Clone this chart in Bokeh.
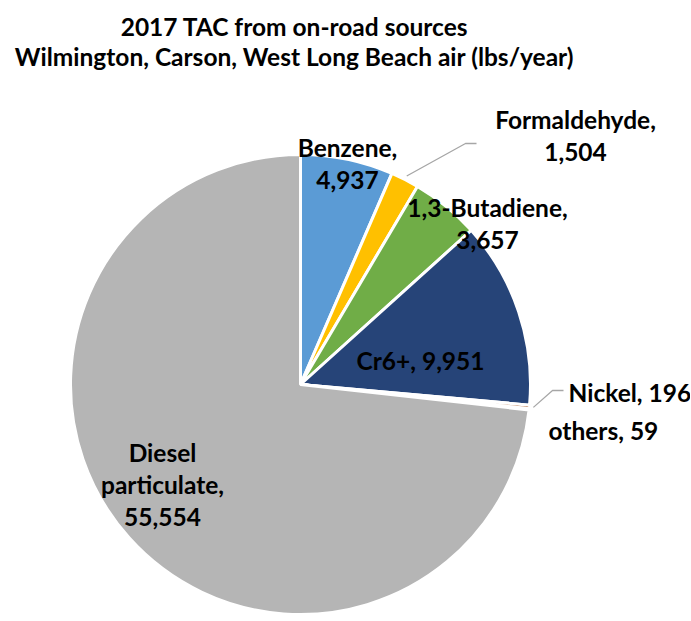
import math
from bokeh.plotting import figure
from bokeh.models import Range1d, ColumnDataSource
from bokeh.core.properties import value
from bokeh.embed import file_html
from bokeh.resources import INLINE

# ---- data ----
title_lines = ["2017 TAC from on-road sources",
               "Wilmington, Carson, West Long Beach air (lbs/year)"]
names = ["Benzene", "Formaldehyde", "1,3-Butadiene", "Cr6+", "Nickel", "others",
         "Diesel particulate"]
values = [4937, 1504, 3657, 9951, 196, 59, 55554]
colors = ["#5B9BD5", "#FFC000", "#70AD47", "#264478", "#9E480E", "#636363", "#B5B5B5"]

# ---- layout (page pixels) ----
W, H = 690, 620
CX, CY, R = 300, 384, 230
FONT = "Lato"
FS = "24.5px"
LINE_H = 32
# label layout: (x, first baseline y, align, line mode)
label_layout = [
    (347, 147, "center", "two"),
    (575, 119, "center", "two"),
    (487, 207, "center", "two"),
    (420, 360, "center", "one"),
    (568, 392, "left", "one"),
    (548, 430, "left", "one"),
    (162, 452, "center", "three"),
]
leader_elbows = {1: [(465, 143), (476, 143)], 4: [(552, 390), (563, 390)]}


def py(y):
    return H - y


p = figure(width=W, height=H, x_range=Range1d(0, W), y_range=Range1d(0, H),
           output_backend="svg", toolbar_location=None, min_border=0,
           min_border_left=0, min_border_right=0, min_border_top=0, min_border_bottom=0)
p.axis.visible = False
p.grid.visible = False
p.outline_line_color = None
p.background_fill_color = "white"
p.border_fill_color = "white"

total = sum(values)
starts, ends, mids = [], [], []
cum = 0
for v in values:
    a0 = math.pi / 2 - 2 * math.pi * cum / total
    cum += v
    a1 = math.pi / 2 - 2 * math.pi * cum / total
    starts.append(a0)
    ends.append(a1)
    mids.append((a0 + a1) / 2)

src = ColumnDataSource(dict(start=starts, end=ends, color=colors))
p.wedge(x=CX, y=py(CY), radius=R, start_angle="start", end_angle="end",
        direction="clock", fill_color="color", line_color="white", line_width=3,
        source=src)

# leader lines
for i, elbow in leader_elbows.items():
    a = mids[i]
    sx = CX + (R + 4) * math.cos(a)
    sy = py(CY) + (R + 4) * math.sin(a)
    xs = [sx] + [e[0] for e in elbow]
    ys = [sy] + [py(e[1]) for e in elbow]
    p.line(xs, ys, line_color="#A6A6A6", line_width=1.3)


def label_lines(name, v, mode):
    num = f"{v:,}"
    if mode == "one":
        return [f"{name}, {num}"]
    if mode == "two":
        return [f"{name},", num]
    parts = name.split(" ")
    return [parts[0], parts[1] + ",", num]


groups = {}
for (x, y, align, mode), n, v in zip(label_layout, names, values):
    for k, line in enumerate(label_lines(n, v, mode)):
        g = groups.setdefault(align, dict(x=[], y=[], t=[]))
        g["x"].append(x)
        g["y"].append(py(y + k * LINE_H))
        g["t"].append(line)

for align, g in groups.items():
    p.text(x=g["x"], y=g["y"], text=g["t"], text_font=value(FONT),
           text_font_style="bold", text_font_size=FS, text_align=align,
           text_baseline="alphabetic", text_color="black")

# title
p.text(x=[294, 294], y=[py(26), py(56)], text=title_lines, text_font=value(FONT),
       text_font_style="bold", text_font_size=FS, text_align="center",
       text_baseline="alphabetic", text_color="black")

open("out.html", "w").write(file_html(p, INLINE))
